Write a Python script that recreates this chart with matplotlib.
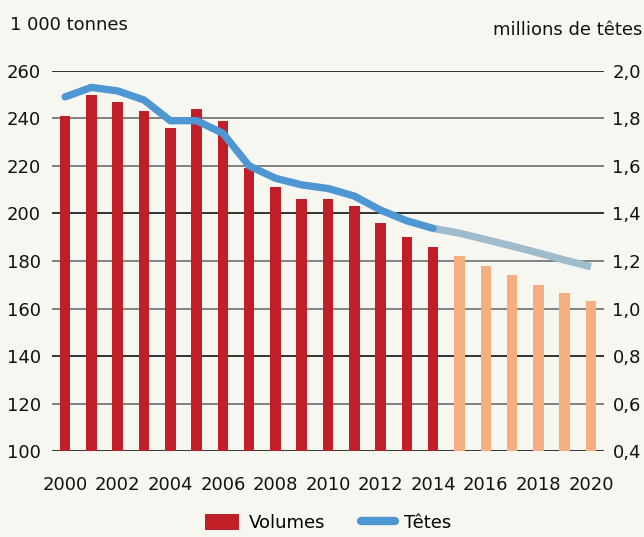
import numpy as np
import matplotlib.pyplot as plt
from matplotlib.lines import Line2D
from matplotlib.patches import Patch

plt.rcParams['font.family'] = ['DejaVu Sans']

# data
years = np.arange(2000, 2021)
volumes = [241, 250, 247, 243, 236, 244, 239, 219, 211, 206, 206,
           203, 196, 190, 186, 182, 178, 174, 170, 166.5, 163]
heads_years = np.arange(2000, 2015)
heads = [1.89, 1.93, 1.915, 1.877, 1.79, 1.79, 1.737, 1.60, 1.548, 1.52,
         1.505, 1.473, 1.414, 1.369, 1.337]
heads_proj_years = np.arange(2014, 2021)
heads_proj = [1.337, 1.317, 1.29, 1.263, 1.234, 1.204, 1.176]
last_actual = 2014
xtick_labels = [str(y) for y in range(2000, 2021, 2)]

bg = '#f7f7f2'
red = '#c11f27'
orange = '#f4ae80'
blue = '#4f97d2'
blue_light = '#9ebccb'

fig = plt.figure(figsize=(6.44, 5.37), dpi=100, facecolor=bg)
ax = fig.add_axes([0.0807, 0.1596, 0.8573, 0.7087], facecolor=bg)

cols = [red if y <= last_actual else orange for y in years]
ax.bar(years, volumes, width=0.4, color=cols, zorder=3)

ax.set_xlim(1999.5, 2020.5)
ax.set_ylim(100, 260)
ax.set_yticks(range(100, 261, 20))
for v in range(100, 261, 20):
    c = '#111111' if v in (100, 140, 200, 260) else '#6e6e6e'
    ax.axhline(v, color=c, lw=1.2, zorder=1)

ax.set_xticks(range(2000, 2021, 2))
ax.set_xticklabels(xtick_labels)
ax.tick_params(axis='both', length=0, labelsize=13, colors='#111111')
ax.tick_params(axis='x', pad=18)
ax.tick_params(axis='y', pad=8)
for s in ax.spines.values():
    s.set_visible(False)

ax2 = ax.twinx()
ax2.set_ylim(0.4, 2.0)
ax2.set_yticks(np.arange(0.4, 2.01, 0.2))
ax2.set_yticklabels([f'{v:.1f}'.replace('.', ',') for v in np.arange(0.4, 2.01, 0.2)])
ax2.tick_params(axis='y', length=0, labelsize=13, colors='#111111', pad=6)
for s in ax2.spines.values():
    s.set_visible(False)
ax2.plot(heads_proj_years, heads_proj, color=blue_light, lw=5.3,
         solid_capstyle='butt', zorder=4)
ax2.plot(heads_years, heads, color=blue, lw=5.3, solid_capstyle='round',
         solid_joinstyle='round', zorder=5)

fig.text(0.015, 0.953, '1 000 tonnes', fontsize=13, color='#111111', va='center')
fig.text(0.997, 0.945, 'millions de têtes', fontsize=13, color='#111111',
         va='center', ha='right')

handles = [Patch(facecolor=red, edgecolor='none'),
           Line2D([0], [0], color=blue, lw=6, solid_capstyle='round')]
fig.legend(handles, ['Volumes', 'Têtes'], loc='center', bbox_to_anchor=(0.51, 0.026),
           ncol=2, frameon=False, fontsize=13, handlelength=1.9,
           handleheight=1.0, columnspacing=2.0, handletextpad=0.5,
           borderpad=0.2)

fig.savefig('out.png', dpi=100, facecolor=bg)
